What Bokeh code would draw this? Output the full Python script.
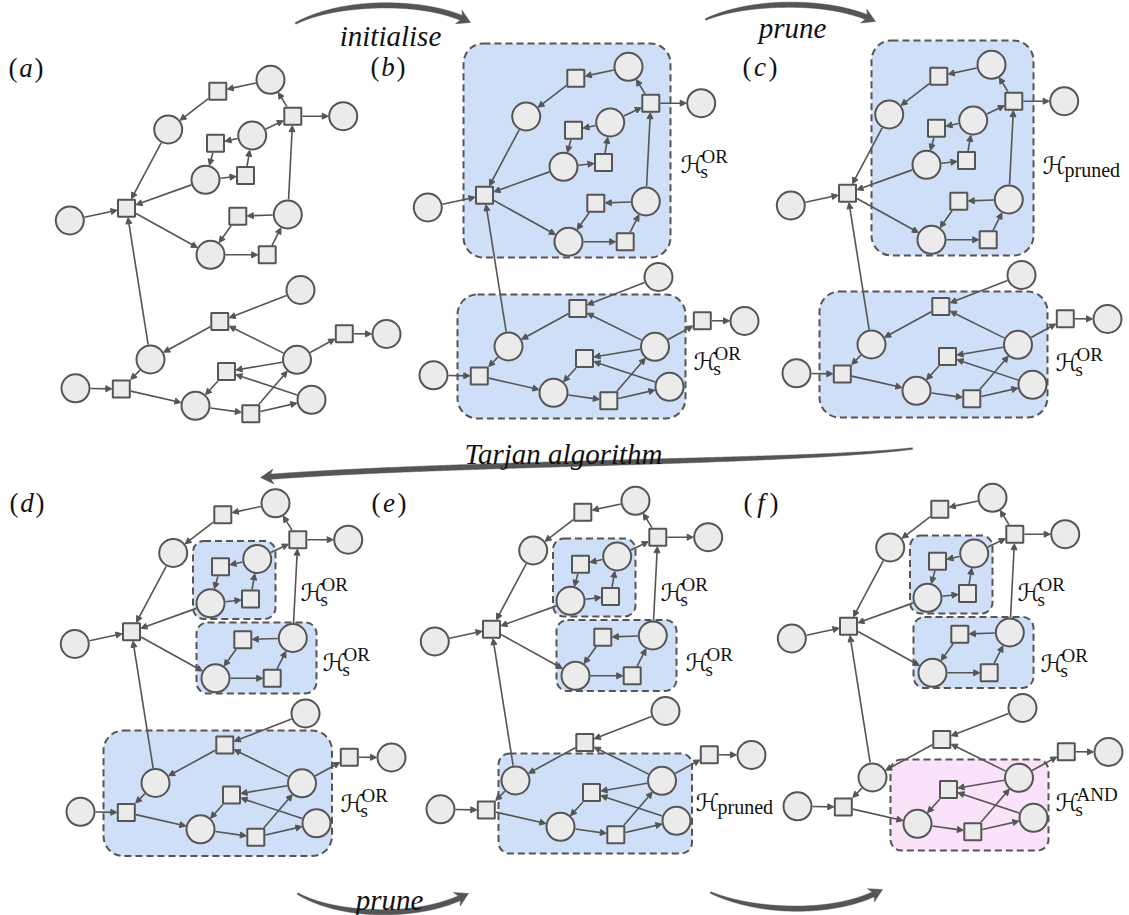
import math
import numpy as np
from bokeh.plotting import figure
from bokeh.models import Range1d, ColumnDataSource, Arrow, NormalHead
from bokeh.core.properties import value
from bokeh.embed import file_html
from bokeh.resources import INLINE

W, H = 1129, 915

# ---- factor graph layout (panel-local coordinates, y grows downward) ----
circle_x = [270, 342.7, 167.7, 251.7, 205, 69.3, 287.3, 210, 300, 150, 296.5, 386, 75, 195, 311]
circle_y = [79.3, 115.7, 129, 135, 179.3, 220, 214, 254.3, 289.5, 359, 359.3, 333.5, 387.8, 405.3, 399.3]
square_x = [217.3, 292.3, 215, 245, 126, 237.3, 266.7, 219.3, 343.8, 226, 120.8, 250.3]
square_y = [90.7, 115.7, 142.7, 175, 207.7, 215.7, 254.3, 321, 333.2, 371, 388.5, 413.2]

# directed edges: source -> target
edge_from = ["c1", "s1", "c3", "s2", "s2", "c4", "c4", "s3", "c5", "s4", "c5", "c6",
             "s5", "c7", "c7", "s6", "c8", "s7", "c10", "c9", "s8", "c11", "c11", "s9",
             "c11", "c15", "s10", "c10", "c13", "s11", "c14", "s12", "s12"]
edge_to = ["s1", "c3", "s5", "c1", "c2", "s2", "s3", "c5", "s4", "c4", "s5", "s5",
           "c8", "s2", "s6", "c8", "s7", "c7", "s5", "s8", "c10", "s8", "s9", "c12",
           "s10", "s10", "c14", "s11", "s11", "c14", "s12", "c11", "c15"]

# the six panels: translation of the layout and caption letter
panel_letter = ["a", "b", "c", "d", "e", "f"]
panel_dx = [0, 358, 721, 5, 365, 722]
panel_dy = [0, -13, -15, 423.5, 421, 418]
caption_x = [8, 370, 742, 9, 371, 743]
caption_y = [67, 66, 66, 502, 502, 502]

# shaded sub-hypergraphs (panel index + panel-local box), kind sets the colour
box_panel = [1, 1, 2, 2, 3, 3, 3, 4, 4, 4, 5, 5, 5]
box_left = [105, 99, 150, 98, 187.5, 191, 98, 187.5, 191, 133, 187.5, 191, 168]
box_top = [56, 307, 55, 306, 117, 198.5, 306.5, 117, 198.5, 332, 117, 198.5, 341]
box_right = [312, 327, 312, 326, 270, 311, 326.5, 270, 311, 326.5, 270, 311, 326]
box_bottom = [270, 431, 270, 432, 195, 269.5, 432, 195, 269.5, 432, 195, 269.5, 432]
box_kind = ["or"] * 12 + ["and"]

# region labels  H_sub^sup  (left edge of H, baseline)
hlabel_x = [680, 693, 1042, 1055, 300, 322, 340, 660, 685, 695, 1017, 1040, 1055]
hlabel_y = [164, 361, 165, 362, 592, 662, 803, 592, 662, 802, 592, 663, 802]
hlabel_sub = ["s", "s", "pruned", "s", "s", "s", "s", "s", "s", "pruned", "s", "s", "s"]
hlabel_sup = ["OR", "OR", "", "OR", "OR", "OR", "OR", "OR", "OR", "", "OR", "OR", "AND"]

# process arrows between panels (cubic Bezier control points) and their captions
flow_x = [[295, 340, 430, 470], [705, 750, 835, 875], [912, 800, 450, 260],
          [297, 340, 425, 468], [710, 760, 840, 882]]
flow_y = [[23, -1, -1, 22], [19, -1, -1, 21], [448, 462, 462, 477],
          [893, 918, 918, 893], [892, 914, 914, 889]]
flow_text = ["initialise", "prune", "Tarjan algorithm", "prune", ""]
flow_text_x = [390, 792, 563, 389, 0]
flow_text_y = [35, 27, 453, 899, 0]

EDGE = "#555555"
NODE_FILL = "#ebebeb"
BLUE = "#cfdff7"
PINK = "#fbe2fb"
INK = "#111111"
CIRCLE_R = 14
SQ_HALF = 8.5
SERIF = value("Liberation Serif")
F_MATH = value("DejaVu Sans")

p = figure(width=W, height=H, x_range=Range1d(0, W), y_range=Range1d(H, 0),
           x_axis_location=None, y_axis_location=None, toolbar_location=None,
           min_border=0, outline_line_color=None, output_backend="svg",
           background_fill_color="white", border_fill_color="white")
p.xgrid.visible = False
p.ygrid.visible = False


def node(nid):
    i = int(nid[1:]) - 1
    if nid[0] == "c":
        return circle_x[i], circle_y[i], "c"
    return square_x[i], square_y[i], "s"


def clearance(kind, ux, uy):
    if kind == "c":
        return CIRCLE_R + 1.0
    return (SQ_HALF + 1.0) / max(abs(ux), abs(uy))


# ---- shaded regions ----
for k in range(len(box_panel)):
    dx, dy = panel_dx[box_panel[k]], panel_dy[box_panel[k]]
    w = box_right[k] - box_left[k]
    h = box_bottom[k] - box_top[k]
    radius = 20 if min(w, h) > 100 else 11
    p.quad(left=[box_left[k] + dx], right=[box_right[k] + dx],
           top=[box_top[k] + dy], bottom=[box_bottom[k] + dy],
           fill_color=PINK if box_kind[k] == "and" else BLUE,
           line_color="#555555", line_width=2, line_dash="7 4",
           border_radius=radius)

# ---- nodes and edges for every panel ----
cx, cy, sx, sy = [], [], [], []
ex0, ey0, ex1, ey1 = [], [], [], []
for dx, dy in zip(panel_dx, panel_dy):
    cx += [x + dx for x in circle_x]
    cy += [y + dy for y in circle_y]
    sx += [x + dx for x in square_x]
    sy += [y + dy for y in square_y]
    for a, b in zip(edge_from, edge_to):
        xa, ya, ka = node(a)
        xb, yb, kb = node(b)
        L = math.hypot(xb - xa, yb - ya)
        ux, uy = (xb - xa) / L, (yb - ya) / L
        ca, cb = clearance(ka, ux, uy), clearance(kb, ux, uy)
        ex0.append(xa + ux * ca + dx)
        ey0.append(ya + uy * ca + dy)
        ex1.append(xb - ux * cb + dx)
        ey1.append(yb - uy * cb + dy)

edge_src = ColumnDataSource(dict(x0=ex0, y0=ey0, x1=ex1, y1=ey1))
p.add_layout(Arrow(end=NormalHead(size=6, fill_color=EDGE, line_color=EDGE, line_width=1),
                   x_start="x0", y_start="y0", x_end="x1", y_end="y1",
                   source=edge_src, line_color=EDGE, line_width=1.6))

p.scatter(cx, cy, marker="circle", size=2 * CIRCLE_R, fill_color=NODE_FILL,
          line_color=EDGE, line_width=2)
p.scatter(sx, sy, marker="square", size=2 * SQ_HALF, fill_color=NODE_FILL,
          line_color=EDGE, line_width=2)

# ---- tapered process arrows ----
def bezier(px, py, t):
    t = np.asarray(t)
    b = [(1 - t) ** 3, 3 * (1 - t) ** 2 * t, 3 * (1 - t) * t ** 2, t ** 3]
    return (sum(bi * xi for bi, xi in zip(b, px)), sum(bi * yi for bi, yi in zip(b, py)))


shaft_xs, shaft_ys, head_xs, head_ys = [], [], [], []
HEAD_LEN, HEAD_HW, W_MIN, W_MAX = 13, 7.5, 0.8, 2.6
for px, py in zip(flow_x, flow_y):
    t = np.linspace(0, 1, 400)
    bx, by = bezier(px, py, t)
    seg = np.hypot(np.diff(bx), np.diff(by))
    s = np.concatenate([[0], np.cumsum(seg)])
    total = s[-1]
    keep = s <= total - HEAD_LEN * 0.6
    qx, qy, qs = bx[keep], by[keep], s[keep]
    tx, ty = np.gradient(qx), np.gradient(qy)
    tl = np.hypot(tx, ty)
    nx, ny = -ty / tl, tx / tl
    frac = np.clip(qs / (0.5 * total), 0, 1)
    hw = W_MIN + (W_MAX - W_MIN) * np.sin(frac * np.pi / 2)
    shaft_xs.append(np.concatenate([qx + nx * hw, (qx - nx * hw)[::-1]]).tolist())
    shaft_ys.append(np.concatenate([qy + ny * hw, (qy - ny * hw)[::-1]]).tolist())
    # head
    j = np.searchsorted(s, total - HEAD_LEN)
    tipx, tipy = bx[-1], by[-1]
    ux, uy = tipx - bx[j], tipy - by[j]
    ul = math.hypot(ux, uy)
    ux, uy = ux / ul, uy / ul
    nxh, nyh = -uy, ux
    basex, basey = tipx - ux * HEAD_LEN, tipy - uy * HEAD_LEN
    head_xs.append([tipx, basex + nxh * HEAD_HW, basex + ux * 4, basex - nxh * HEAD_HW])
    head_ys.append([tipy, basey + nyh * HEAD_HW, basey + uy * 4, basey - nyh * HEAD_HW])

p.patches(shaft_xs, shaft_ys, fill_color=EDGE, line_color=EDGE, line_width=0.5)
p.patches(head_xs, head_ys, fill_color=EDGE, line_color=EDGE, line_width=0.5)

p.text([x for x, t in zip(flow_text_x, flow_text) if t],
       [y for y, t in zip(flow_text_y, flow_text) if t],
       text=[t for t in flow_text if t], text_font=SERIF, text_font_style="italic",
       text_font_size="29px", text_align="center", text_baseline="alphabetic",
       text_color=INK)

# ---- panel captions (a) ... (f) ----
p.text(caption_x, caption_y, text=["("] * 6, text_font=SERIF, text_font_size="27px",
       text_align="left", text_baseline="alphabetic", text_color=INK)
p.text([x + 17.5 for x in caption_x], caption_y, text=panel_letter, text_font=SERIF,
       text_font_style="italic", text_font_size="27px", text_align="center",
       text_baseline="alphabetic", text_color=INK)
p.text([x + 26 for x in caption_x], caption_y, text=[")"] * 6, text_font=SERIF,
       text_font_size="27px", text_align="left", text_baseline="alphabetic",
       text_color=INK)

# ---- region labels ----
p.text(hlabel_x, hlabel_y, text=["\u210b"] * len(hlabel_x), text_font=F_MATH,
       text_font_size="24px", text_align="left",
       text_baseline="alphabetic", text_color=INK)
sub_s = [i for i, s in enumerate(hlabel_sub) if s == "s"]
p.text([hlabel_x[i] + 20 for i in sub_s], [hlabel_y[i] + 6.5 for i in sub_s],
       text=["s"] * len(sub_s), text_font=SERIF, text_font_size="19px",
       text_align="left", text_baseline="alphabetic", text_color=INK)
sub_p = [i for i, s in enumerate(hlabel_sub) if s == "pruned"]
p.text([hlabel_x[i] + 22 for i in sub_p], [hlabel_y[i] + 4 for i in sub_p],
       text=["pruned"] * len(sub_p), text_font=SERIF, text_font_size="20px",
       text_align="left", text_baseline="alphabetic", text_color=INK)
sup = [i for i, s in enumerate(hlabel_sup) if s]
p.text([hlabel_x[i] + 21 for i in sup], [hlabel_y[i] - 8 for i in sup],
       text=[hlabel_sup[i] for i in sup], text_font=SERIF, text_font_size="19px",
       text_align="left", text_baseline="alphabetic", text_color=INK)

open("out.html", "w").write(file_html(p, INLINE))
